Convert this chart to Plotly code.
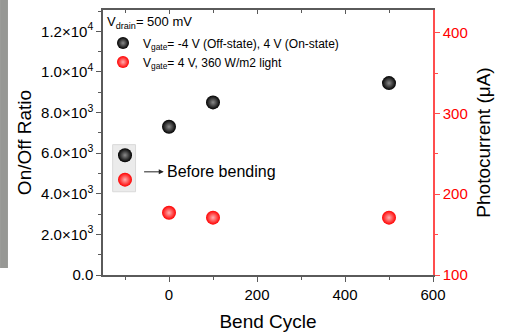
import plotly.graph_objects as go

# ---- data ----
bend_cycles = [0, 100, 500]
on_off_ratio = [7300, 8500, 9450]
photocurrent_uA = [177, 171, 171]

before_x = [-100]
before_ratio = [5900]
before_photocurrent = [218]

left_tickvals = [0, 2000, 4000, 6000, 8000, 10000, 12000]
left_ticktext = ["0.0", "2.0×10<sup>3</sup>", "4.0×10<sup>3</sup>", "6.0×10<sup>3</sup>",
                 "8.0×10<sup>3</sup>", "1.0×10<sup>4</sup>", "1.2×10<sup>4</sup>"]
right_tickvals = [100, 200, 300, 400]
x_tickvals = [0, 200, 400, 600]

x_range = [-150, 600]
left_range = [0, 13050]
right_range = [100, 428]

FONT = "Liberation Sans, Arial, sans-serif"
AX = "#5a5a5a"
RED_AX = "#ff4d4d"

fig = go.Figure()

black_marker = dict(color="black", size=14, symbol="circle",
                    gradient=dict(type="radial", color="#8a8a8a"),
                    line=dict(width=0))
red_marker = dict(color="#ff0000", size=14, symbol="circle",
                  gradient=dict(type="radial", color="#ffb0b0"),
                  line=dict(width=0))

fig.add_trace(go.Scatter(x=bend_cycles, y=on_off_ratio, mode="markers",
                         marker=black_marker, yaxis="y",
                         name="V<sub>gate</sub>= -4 V (Off-state), 4 V (On-state)"))
fig.add_trace(go.Scatter(x=bend_cycles, y=photocurrent_uA, mode="markers",
                         marker=red_marker, yaxis="y2",
                         name="V<sub>gate</sub>= 4 V, 360 W/m2 light"))
fig.add_trace(go.Scatter(x=before_x, y=before_ratio, mode="markers",
                         marker=black_marker, yaxis="y", showlegend=False))
fig.add_trace(go.Scatter(x=before_x, y=before_photocurrent, mode="markers",
                         marker=red_marker, yaxis="y2", showlegend=False))
# invisible trace to anchor the mirrored top axis
fig.add_trace(go.Scatter(x=before_x, y=before_ratio, mode="markers", xaxis="x2", yaxis="y",
                         marker=dict(opacity=0), showlegend=False, hoverinfo="skip"))

# shaded box around "before bending" points
fig.add_shape(type="rect", xref="x", yref="y", x0=-128, x1=-76, y0=4100, y1=6420,
              fillcolor="#ebebeb", line=dict(color="#d9d9d9", width=1), layer="below")
# left gray strip
fig.add_shape(type="rect", xref="paper", yref="paper", x0=-0.312, x1=-0.288, y0=0.026, y1=1.04,
              fillcolor="#979895", line=dict(width=0), layer="below")

fig.add_annotation(x=-12, y=5080, ax=-60, ay=5080, xref="x", yref="y", axref="x", ayref="y",
                   text="", showarrow=True, arrowhead=2, arrowsize=1, arrowwidth=1,
                   arrowcolor="#222", standoff=0, startstandoff=0)
fig.add_annotation(x=-10, y=5080, xref="x", yref="y", text="Before bending", showarrow=False,
                   xanchor="left", yanchor="middle", font=dict(family=FONT, size=16, color="black"))
fig.add_annotation(x=0.006, y=0.952, xref="paper", yref="paper", text="V<sub>drain</sub>= 500 mV",
                   showarrow=False, xanchor="left", yanchor="middle",
                   font=dict(family=FONT, size=13, color="black"))

fig.update_layout(
    width=507, height=335,
    margin=dict(l=103, r=74, t=10, b=60, autoexpand=False),
    paper_bgcolor="white", plot_bgcolor="white",
    font=dict(family=FONT, color="black"),
    showlegend=True,
    legend=dict(x=0.0, y=0.93, xanchor="left", yanchor="top",
                bgcolor="rgba(0,0,0,0)", font=dict(family=FONT, size=12),
                itemsizing="constant", tracegroupgap=0),
    xaxis=dict(range=x_range, tickvals=x_tickvals, ticks="outside", ticklen=5, tickwidth=1,
               tickcolor=AX, showline=True, linecolor=AX, linewidth=1.5, showgrid=False,
               zeroline=False, tickfont=dict(family=FONT, size=15), automargin=False,
               minor=dict(dtick=100, tick0=0, ticks="outside", ticklen=3, tickcolor=AX),
               title=dict(text="Bend Cycle", font=dict(family=FONT, size=19), standoff=13)),
    xaxis2=dict(range=x_range, overlaying="x", side="top", tickvals=x_tickvals, ticks="inside",
                ticklen=4, tickcolor=AX, showline=True, linecolor=AX, linewidth=1.5,
                showticklabels=False, showgrid=False, zeroline=False, automargin=False,
                minor=dict(dtick=100, tick0=0, ticks="inside", ticklen=3, tickcolor=AX)),
    yaxis=dict(range=left_range, tickvals=left_tickvals, ticktext=left_ticktext, ticks="outside",
               ticklen=5, tickcolor=AX, showline=True, linecolor=AX, linewidth=1.5, showgrid=False,
               zeroline=False, tickfont=dict(family=FONT, size=15), automargin=False,
               minor=dict(dtick=1000, tick0=0, ticks="outside", ticklen=3, tickcolor=AX),
               title=dict(text="On/Off Ratio", font=dict(family=FONT, size=19), standoff=4)),
    yaxis2=dict(range=right_range, overlaying="y", side="right", tickvals=right_tickvals,
                ticks="outside", ticklen=5, tickcolor=RED_AX, showline=True, linecolor=RED_AX,
                linewidth=1.5, showgrid=False, zeroline=False, automargin=False,
                tickfont=dict(family=FONT, size=15, color="#ff0000"),
                minor=dict(dtick=50, tick0=100, ticks="outside", ticklen=3, tickcolor=RED_AX),
                title=dict(text="Photocurrent (μA)", font=dict(family=FONT, size=19, color="black"),
                           standoff=10)),
)

fig.write_html("out.html", config={"displayModeBar": False},
               post_script="document.body.style.margin='0';document.body.style.overflow='hidden';")
